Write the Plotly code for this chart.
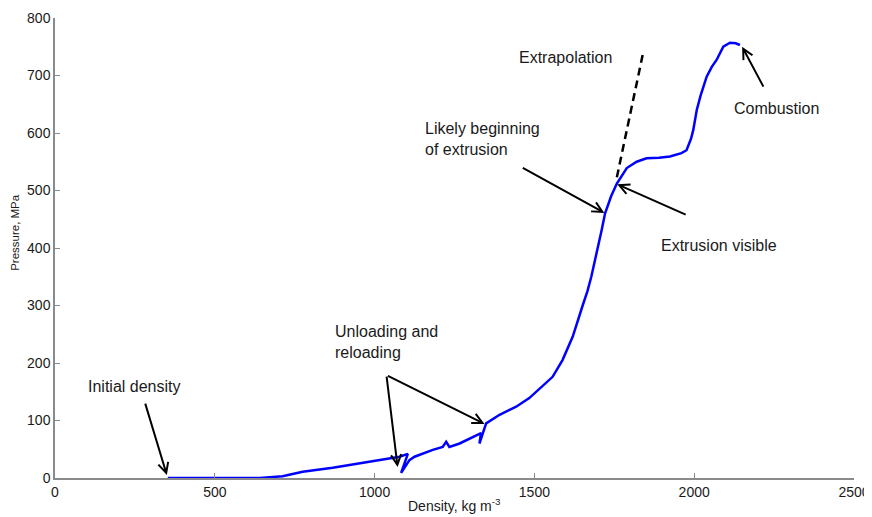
import plotly.graph_objects as go

# Main measured curve: density (kg m^-3) vs pressure (MPa)
density = [353, 450, 550, 641, 712, 775, 869, 975, 1047, 1078, 1104, 1083, 1109, 1125,
           1182, 1213, 1224, 1234, 1266, 1318, 1333, 1328, 1349, 1391, 1443, 1484, 1516,
           1557, 1588, 1620, 1651, 1666, 1678, 1690, 1700, 1710, 1721, 1740, 1758, 1789,
           1820, 1851, 1890, 1924, 1960, 1976, 1990, 1997, 2008, 2020, 2039, 2055, 2070,
           2091, 2112, 2130, 2143]
pressure = [0, 0, 0, 0, 3, 11, 18, 28, 35, 37, 42, 9, 31, 37,
            49, 54, 63, 54, 60, 75, 78, 60, 95, 110, 124, 139, 156,
            176, 205, 246, 300, 325, 350, 380, 400, 430, 460, 490, 512, 539,
            550, 556, 557, 559, 565, 570, 590, 605, 640, 665, 698, 715, 727,
            750, 757, 756, 753]

# Extrapolation (dashed)
extrap_density = [1758, 1840]
extrap_pressure = [523, 739]

# Annotation texts and positions (data coords)
labels = ["Initial density", "Unloading and<br>reloading", "Likely beginning<br>of extrusion",
          "Extrapolation", "Extrusion visible", "Combustion"]
label_x = [250, 869, 1150, 1444, 1891, 2119]
label_y = [160, 237, 589, 732, 405, 643]
label_anchor = ["center", "left", "left", "left", "left", "left"]

# Arrows: tail (ax, ay) -> tip (x, y)
arrow_tail_x = [281, 1037, 1037, 1459, 1978, 2219]
arrow_tail_y = [132, 179, 179, 541, 457, 678]
arrow_tip_x = [350, 1072, 1344, 1719, 1759, 2150]
arrow_tip_y = [5, 19, 94, 461, 511, 750]

x_ticks = [0, 500, 1000, 1500, 2000, 2500]
y_ticks = [0, 100, 200, 300, 400, 500, 600, 700, 800]

FONT = "Arial, Liberation Sans, sans-serif"
TXT = "#1a1a1a"

fig = go.Figure()
fig.add_trace(go.Scatter(x=density, y=pressure, mode="lines",
                         line=dict(color="#0000ff", width=2.5), showlegend=False))
fig.add_trace(go.Scatter(x=extrap_density, y=extrap_pressure, mode="lines",
                         line=dict(color="black", width=2.5, dash="8px,5px"), showlegend=False))

annotations = []
for t, x, y, a in zip(labels, label_x, label_y, label_anchor):
    annotations.append(dict(text=t, x=x, y=y, xref="x", yref="y", showarrow=False,
                            xanchor=a, yanchor="middle", align="left",
                            font=dict(family=FONT, size=16, color=TXT)))
for tx, ty, hx, hy in zip(arrow_tail_x, arrow_tail_y, arrow_tip_x, arrow_tip_y):
    annotations.append(dict(text="", x=hx, y=hy, ax=tx, ay=ty, xref="x", yref="y",
                            axref="x", ayref="y", showarrow=True, arrowhead=5,
                            arrowsize=1, arrowwidth=2, arrowcolor="black", standoff=0))

annotations.append(dict(text="Pressure, MPa", xref="paper", yref="paper", x=-0.05, y=0.533,
                        textangle=-90, showarrow=False, xanchor="center", yanchor="middle",
                        font=dict(family=FONT, size=11.5, color=TXT)))
annotations.append(dict(text="Density, kg m<sup>-3</sup>", xref="paper", yref="paper",
                        x=0.5, y=-0.058, showarrow=False, xanchor="center", yanchor="middle",
                        font=dict(family=FONT, size=14, color=TXT)))

# The page places the figure 8px from the top-left corner, so size/margins compensate.
fig.update_layout(
    width=864, height=509,
    margin=dict(l=47, r=18, t=10, b=39),
    plot_bgcolor="white", paper_bgcolor="white",
    annotations=annotations,
    font=dict(family=FONT, color=TXT),
)
fig.update_xaxes(range=[0, 2500], tickvals=x_ticks, ticktext=[str(v) for v in x_ticks],
                 showgrid=False, zeroline=False, showline=True, linecolor="#8a8a8a",
                 linewidth=1.5, ticks="inside", ticklen=5, tickcolor="#8a8a8a",
                 tickfont=dict(family=FONT, size=14, color=TXT), automargin=False)
fig.update_yaxes(range=[0, 800], tickvals=y_ticks, ticktext=[str(v) for v in y_ticks],
                 showgrid=False, zeroline=False, showline=True, linecolor="#8a8a8a",
                 linewidth=1.5, ticks="inside", ticklen=5, tickcolor="#8a8a8a",
                 tickfont=dict(family=FONT, size=14, color=TXT), automargin=False)

fig.write_html("out.html")
